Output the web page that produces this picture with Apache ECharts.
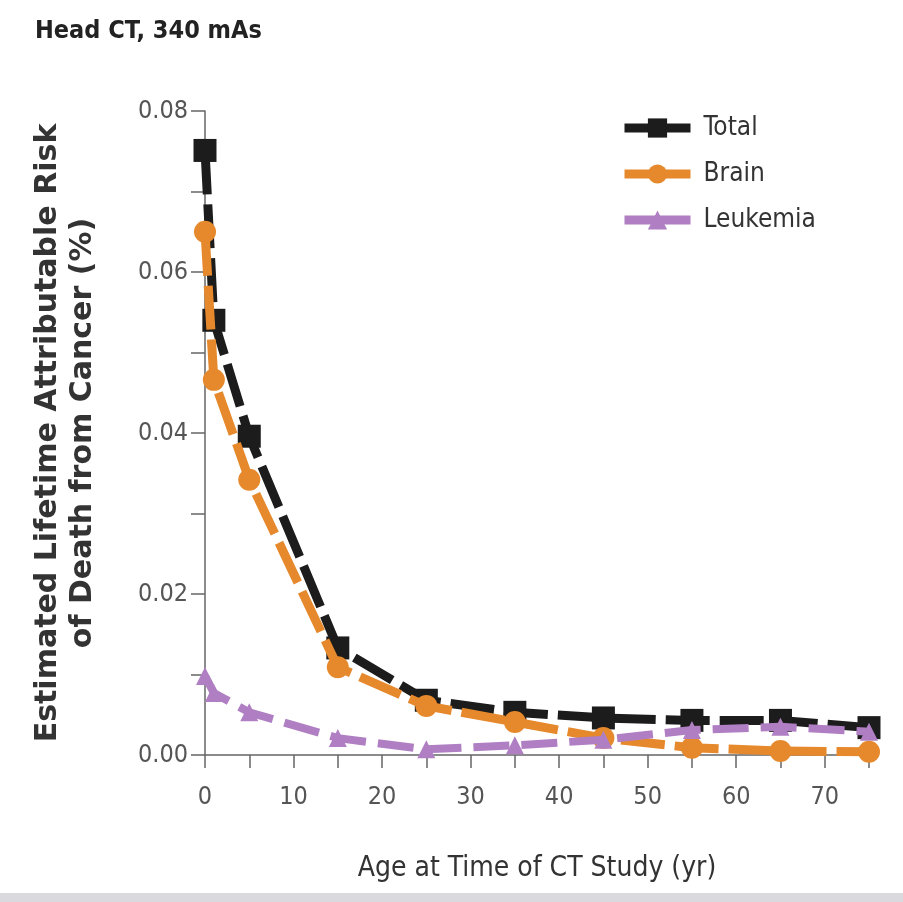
<!DOCTYPE html>
<html>
<head>
<meta charset="utf-8">
<script src="https://cdn.jsdelivr.net/npm/echarts@6/dist/echarts.min.js"></script>
<style>
  html, body { margin: 0; padding: 0; background: #fff; }
  #chart { width: 903px; height: 902px; }
</style>
</head>
<body>
<div id="chart"></div>
<script>
/* ===== 数据 ===== */
const ages = [0, 1, 5, 15, 25, 35, 45, 55, 65, 75];
const totalRisk = [0.0751, 0.0540, 0.0396, 0.0133, 0.0068, 0.0053, 0.0046, 0.0043, 0.0043, 0.0034];
const brainRisk = [0.0650, 0.0466, 0.0342, 0.0109, 0.0061, 0.0041, 0.0021, 0.0009, 0.0005, 0.0004];
const leukemiaRisk = [0.0098, 0.0077, 0.0053, 0.0021, 0.0007, 0.0012, 0.0019, 0.0031, 0.0035, 0.0029];
const seriesNames = ["Total", "Brain", "Leukemia"];

const narrow = "'DejaVu Sans Condensed', 'Liberation Sans Narrow', sans-serif";

const pairs = (ys) => ages.map((x, i) => [x, ys[i]]);

const chart = echarts.init(document.getElementById("chart"));
chart.setOption({
    animation: false,
    title: {
        text: "Head CT, 340 mAs",
        left: 30, top: 14,
        textStyle: { fontFamily: narrow, fontSize: 25, fontWeight: "bold", color: "#222" },
    },
    grid: { left: 205, right: 34, top: 111, bottom: 147 },
    legend: {
        orient: "vertical",
        left: 615, top: 110,
        itemWidth: 66, itemHeight: 24, itemGap: 20,
        lineStyle: { width: 9, type: "solid" },
        textStyle: { fontFamily: narrow, fontSize: 26, color: "#333", padding: [0, 0, 0, 8] },
        data: seriesNames,
    },
    xAxis: {
        type: "value",
        min: 0, max: 75, interval: 5,
        name: "Age at Time of CT Study (yr)",
        nameLocation: "middle", nameGap: 100,
        nameTextStyle: { fontFamily: narrow, fontSize: 28, color: "#333" },
        axisLine: { lineStyle: { color: "#666", width: 1.5 } },
        axisTick: { inside: false, length: 13, lineStyle: { color: "#666", width: 1.5 } },
        splitLine: { show: false },
        axisLabel: {
            margin: 30,
            fontFamily: narrow, fontSize: 25, color: "#555",
            formatter: (v) => (v % 10 === 0 && v <= 70 ? String(v) : ""),
        },
    },
    yAxis: {
        type: "value",
        min: 0, max: 0.08, interval: 0.01,
        name: "Estimated Lifetime Attributable Risk\nof Death from Cancer (%)",
        nameLocation: "middle", nameGap: 104, nameRotate: 90,
        nameTextStyle: { fontFamily: "'DejaVu Sans', sans-serif", fontSize: 30, fontWeight: "bold", color: "#333", lineHeight: 35 },
        axisLine: { show: true, lineStyle: { color: "#666", width: 1.5 } },
        axisTick: { inside: false, length: 14, lineStyle: { color: "#666", width: 1.5 } },
        splitLine: { show: false },
        axisLabel: {
            margin: 17,
            fontFamily: narrow, fontSize: 25, color: "#555",
            formatter: (v) => {
                const k = Math.round(v * 100);
                return k % 2 === 0 ? v.toFixed(2) : "";
            },
        },
    },
    series: [
        {
            name: "Total", type: "line", data: pairs(totalRisk),
            symbol: "rect", symbolSize: 23,
            itemStyle: { color: "#1c1c1c" },
            lineStyle: { color: "#1c1c1c", width: 9, type: [44, 10] },
            z: 3,
        },
        {
            name: "Brain", type: "line", data: pairs(brainRisk),
            symbol: "circle", symbolSize: 22,
            itemStyle: { color: "#e6892c" },
            lineStyle: { color: "#e6892c", width: 9, type: [44, 10] },
            z: 4,
        },
        {
            name: "Leukemia", type: "line", data: pairs(leukemiaRisk),
            symbol: "triangle", symbolSize: 18,
            itemStyle: { color: "#b07fc3" },
            lineStyle: { color: "#b07fc3", width: 8, type: [36, 12] },
            z: 5,
        },
    ],
    graphic: [{
        type: "rect", left: 0, bottom: 0,
        shape: { width: 903, height: 9 },
        style: { fill: "#d9d9de" },
    }],
});
</script>
</body>
</html>
